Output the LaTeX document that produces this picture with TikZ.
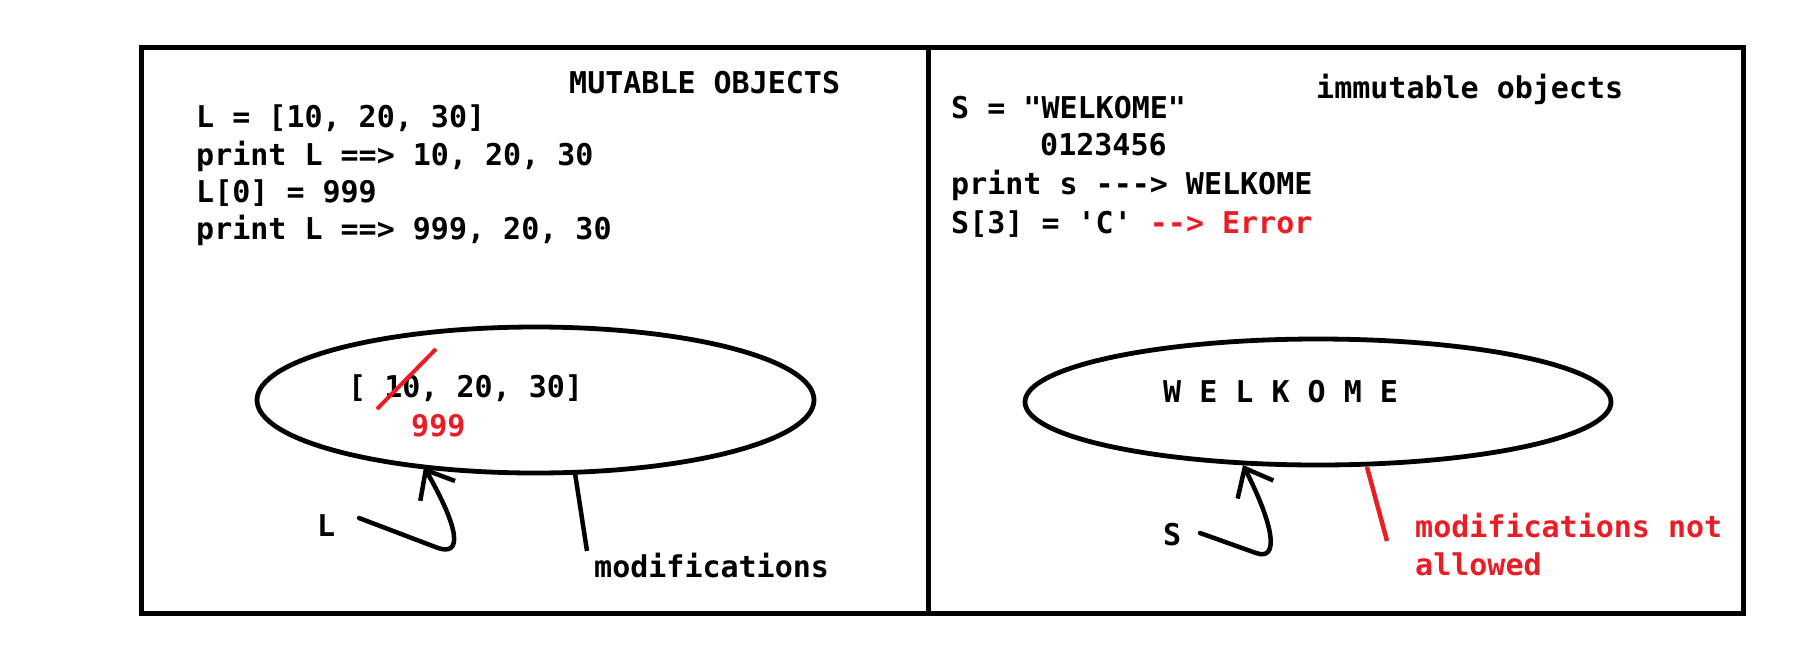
\documentclass[tikz,border=0pt]{standalone}
\usepackage{fontspec}
\setmonofont{DejaVu Sans Mono}
\usetikzlibrary{shapes.geometric,arrows.meta}
\definecolor{pred}{RGB}{237,28,36}
\begin{document}
\begin{tikzpicture}[x=1pt,y=-1pt,
  txt/.style={anchor=base west, inner sep=0pt, font=\fontsize{30}{38}\selectfont\ttfamily\bfseries},
  redtxt/.style={txt, text=pred},
  frameline/.style={line width=5pt},
  oval/.style={ellipse, draw, line width=4.8pt, inner sep=0pt},
  pointer/.style={line width=4.5pt, line cap=round, -{Straight Barb[length=24pt,width=40pt,line width=4.5pt]}},
  stick/.style={line width=4.5pt},
  redstick/.style={line width=4.5pt, draw=pred}]
\useasboundingbox (0,0) rectangle (1813,654);
% frame
\draw[frameline] (141,47) rectangle (1743,613);
\draw[frameline] (928,47) -- (928,613);
% left panel texts
\node[txt] (mt) at (569,93) {MUTABLE OBJECTS};
\node[txt] (l1) at (196,127) {L = [10, 20, 30]};
\node[txt] (l2) at (196,165) {print L ==> 10, 20, 30};
\node[txt] (l3) at (196,202) {L[0] = 999};
\node[txt] (l4) at (196,239) {print L ==> 999, 20, 30};
% right panel texts
\node[txt] (it) at (1316,98) {immutable objects};
\node[txt] (r1) at (951,118) {S = "WELKOME"};
\node[txt] (r2) at (1040,155) {0123456};
\node[txt] (r3) at (951,194) {print s ---> WELKOME};
\node[txt] (r4) at (951,233) {S[3] = 'C' \textcolor{pred}{--> Error}};
% left ellipse
\node[oval, minimum width=557pt, minimum height=146pt] (lo) at (535.5,400) {};
\node[txt] (lc) at (348,397) {[ 10, 20, 30]};
\coordinate (sa) at (377,409);
\coordinate (sb) at (436,349);
\draw[line width=4pt, pred] (sa) -- (sb);
\node[redtxt] (nn) at (411,436) {999};
\node[txt] (lL) at (317,536) {L};
\coordinate (lst) at (359,518);
\coordinate (lbt) at (438,548);
\coordinate (ltip) at (424,467);
\draw[pointer] (lst) -- (lbt) .. controls (462,556) and (460,530) .. (ltip);
\coordinate (ma) at (575,473);
\coordinate (mb) at (587,551);
\draw[stick] (ma) -- (mb);
\node[txt] (mod) at (594,577) {modifications};
% right ellipse
\node[oval, minimum width=586pt, minimum height=126pt] (ro) at (1318,402) {};
\node[txt] (rc) at (1163,402) {W E L K O M E};
\node[txt] (rS) at (1163,545) {S};
\coordinate (rst) at (1200,533);
\coordinate (rbt) at (1256,553);
\coordinate (rtip) at (1243,465);
\draw[pointer] (rst) -- (rbt) .. controls (1278,561) and (1276,530) .. (rtip);
\coordinate (na) at (1367,467);
\coordinate (nb) at (1387,541);
\draw[redstick] (na) -- (nb);
\node[redtxt] (nm1) at (1415,537) {modifications not};
\node[redtxt] (nm2) at (1415,575) {allowed};
\end{tikzpicture}
\end{document}
